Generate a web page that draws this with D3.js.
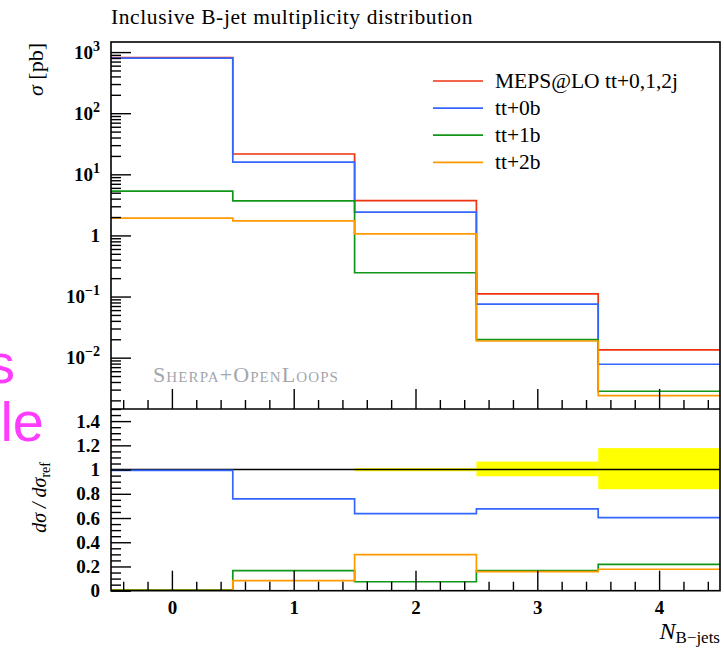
<!DOCTYPE html>
<html>
<head>
<meta charset="utf-8">
<script src="https://cdn.jsdelivr.net/npm/d3@7"></script>
<style>
  body { margin: 0; background: #fff; }
  svg { display: block; }
  .serif { font-family: "Liberation Serif", "DejaVu Serif", serif; }
</style>
</head>
<body>
<div class="main"></div>
<script>
// data
const bins = [0, 1, 2, 3, 4];
const seriesNames = ["MEPS@LO tt+0,1,2j", "tt+0b", "tt+1b", "tt+2b"];
const seriesColors = ["#ee3311", "#3366ff", "#109618", "#ff9900"];

// cross sections [pb]
const xsMeps = [810, 21.5, 3.7, 0.111, 0.0134];
const xs0b = [798, 15.8, 2.4, 0.0754, 0.0078];
const xs1b = [5.3, 3.68, 0.245, 0.0197, 0.00282];
const xs2b = [1.92, 1.73, 1.06, 0.01875, 0.00239];

// ratios to MEPS@LO
const r0b = [0.993, 0.758, 0.636, 0.675, 0.603];
const r1b = [0.007, 0.165, 0.074, 0.165, 0.218];
const r2b = [0.002, 0.083, 0.298, 0.157, 0.177];
const bandLo = [0.998, 0.997, 0.986, 0.945, 0.838];
const bandHi = [1.002, 1.003, 1.012, 1.066, 1.177];

const yTickVals = [1e-2, 1e-1, 1, 10, 100, 1000];
const yTickExp = ["−2", "−1", "", "1", "2", "3"];
const rTickVals = [0, 0.2, 0.4, 0.6, 0.8, 1, 1.2, 1.4];
const xTickVals = [0, 1, 2, 3, 4];

// layout
const W = 724, H = 650;
const pLeft = 111, pRight = 720, pTop = 42, pMid = 409, pBottom = 590.7;

const svg = d3.select(".main").append("svg")
  .attr("width", W).attr("height", H);
svg.append("rect").attr("width", W).attr("height", H).attr("fill", "#fff");

// slide text behind the chart
svg.append("text").attr("x", 15).attr("y", 383)
  .attr("text-anchor", "end")
  .style("font-family", "Liberation Sans, Arial, sans-serif")
  .style("font-size", "56px").attr("fill", "#ff3cff").text("s");
svg.append("text").attr("x", 44).attr("y", 441)
  .attr("text-anchor", "end")
  .style("font-family", "Liberation Sans, Arial, sans-serif")
  .style("font-size", "56px").attr("fill", "#ff3cff").text("ble");

//scales
const xScale = d3.scaleLinear().domain([-0.5, 4.5]).range([pLeft, pRight]);
const yScale = d3.scaleLog().domain([Math.pow(10, -2.84), Math.pow(10, 3.165)]).range([pMid, pTop]);
const rScale = d3.scaleLinear().domain([0, 1.5]).range([pBottom, pMid]);

svg.append("clipPath").attr("id", "clipMain")
  .append("rect").attr("x", pLeft).attr("y", pTop).attr("width", pRight - pLeft).attr("height", pMid - pTop);
svg.append("clipPath").attr("id", "clipRatio")
  .append("rect").attr("x", pLeft).attr("y", pMid).attr("width", pRight - pLeft).attr("height", pBottom - pMid);

function stepPoints(vals) {
  const pts = [];
  vals.forEach((v, i) => {
    pts.push([bins[i] - 0.5, v]);
    pts.push([bins[i] + 0.5, v]);
  });
  return pts;
}

// main histogram
const mainLine = d3.line().x(d => xScale(d[0])).y(d => yScale(d[1]));
const gMain = svg.append("g").attr("clip-path", "url(#clipMain)");
[xsMeps, xs0b, xs1b, xs2b].forEach((vals, k) => {
  gMain.append("path")
    .attr("d", mainLine(stepPoints(vals)))
    .attr("fill", "none")
    .attr("stroke", seriesColors[k])
    .attr("stroke-width", 1.7);
});

// ratio panel
const gRatio = svg.append("g").attr("clip-path", "url(#clipRatio)");
gRatio.selectAll("rect.band")
  .data(bins)
  .enter()
  .append("rect")
  .attr("class", "band")
  .attr("x", d => xScale(d - 0.5))
  .attr("width", d => xScale(d + 0.5) - xScale(d - 0.5))
  .attr("y", (d, i) => rScale(bandHi[i]))
  .attr("height", (d, i) => rScale(bandLo[i]) - rScale(bandHi[i]))
  .attr("fill", "#ffff00");
gRatio.append("line")
  .attr("x1", pLeft).attr("x2", pRight)
  .attr("y1", rScale(1)).attr("y2", rScale(1))
  .attr("stroke", "#000").attr("stroke-width", 1.4);
const ratioLine = d3.line().x(d => xScale(d[0])).y(d => rScale(d[1]));
[r0b, r1b, r2b].forEach((vals, k) => {
  gRatio.append("path")
    .attr("d", ratioLine(stepPoints(vals)))
    .attr("fill", "none")
    .attr("stroke", seriesColors[k + 1])
    .attr("stroke-width", 1.7);
});

// axes
const tickStyle = g => {
  g.select(".domain").remove();
  g.selectAll(".tick line").attr("stroke", "#000").attr("stroke-width", 1.4);
};

// log y axis, minor then major
const yMinor = [];
for (let e = -3; e <= 3; e++) {
  for (let m = 2; m <= 9; m++) {
    const v = m * Math.pow(10, e);
    if (v >= yScale.domain()[0] && v <= yScale.domain()[1]) yMinor.push(v);
  }
}
svg.append("g")
  .attr("transform", "translate(" + pLeft + ",0)")
  .call(d3.axisLeft(yScale).tickValues(yMinor).tickSize(-10).tickFormat(""))
  .call(tickStyle);
const yAx = svg.append("g")
  .attr("transform", "translate(" + pLeft + ",0)")
  .call(d3.axisLeft(yScale).tickValues(yTickVals).tickSize(-20).tickFormat(""))
  .call(tickStyle);
yAx.selectAll(".tick").each(function(d, i) {
  const t = d3.select(this).append("text")
    .attr("class", "serif")
    .attr("x", -11).attr("y", 6)
    .attr("text-anchor", "end")
    .attr("fill", "#000")
    .style("font-size", "19px")
    .style("font-weight", "bold");
  if (yTickExp[i] === "") {
    t.text("1");
  } else {
    t.append("tspan").text("10");
    t.append("tspan").attr("dy", -8).style("font-size", "14px").text(yTickExp[i]);
  }
});

// ratio y axis
const rMinor = d3.range(0, 1.5001, 0.05).filter(v => Math.abs(v * 5 - Math.round(v * 5)) > 1e-6);
svg.append("g")
  .attr("transform", "translate(" + pLeft + ",0)")
  .call(d3.axisLeft(rScale).tickValues(rMinor).tickSize(-10).tickFormat(""))
  .call(tickStyle);
svg.append("g")
  .attr("transform", "translate(" + pLeft + ",0)")
  .call(d3.axisLeft(rScale).tickValues(rTickVals).tickSize(-20).tickPadding(11).tickFormat(d3.format("~g")))
  .call(tickStyle)
  .call(g => g.selectAll("text")
    .attr("class", "serif").attr("fill", "#000")
    .style("font-size", "19px").style("font-weight", "bold"));

// x axes (main bottom and ratio bottom)
const xMinor = d3.range(-0.4, 4.5, 0.2).filter(v => Math.abs(v - Math.round(v)) > 1e-6);
[pMid, pBottom].forEach((yy, k) => {
  svg.append("g")
    .attr("transform", "translate(0," + yy + ")")
    .call(d3.axisBottom(xScale).tickValues(xMinor).tickSize(-9).tickFormat(""))
    .call(tickStyle);
  const ax = svg.append("g")
    .attr("transform", "translate(0," + yy + ")")
    .call(d3.axisBottom(xScale).tickValues(xTickVals).tickSize(-20).tickPadding(8)
      .tickFormat(k === 1 ? d3.format("d") : ""))
    .call(tickStyle);
  ax.selectAll("text")
    .attr("class", "serif").attr("fill", "#000")
    .attr("y", 10)
    .style("font-size", "19px").style("font-weight", "bold");
});

// frame
svg.append("rect")
  .attr("x", pLeft).attr("y", pTop)
  .attr("width", pRight - pLeft).attr("height", pBottom - pTop)
  .attr("fill", "none").attr("stroke", "#000").attr("stroke-width", 1.6);
svg.append("line")
  .attr("x1", pLeft).attr("x2", pRight).attr("y1", pMid).attr("y2", pMid)
  .attr("stroke", "#000").attr("stroke-width", 1.6);

// title
svg.append("text")
  .attr("class", "serif")
  .attr("x", pLeft).attr("y", 24)
  .style("font-size", "21.5px")
  .style("letter-spacing", "0.6px")
  .text("Inclusive B-jet multiplicity distribution");

// y labels
svg.append("text")
  .attr("class", "serif")
  .attr("transform", "translate(43," + (pTop + 1) + ") rotate(-90)")
  .attr("text-anchor", "end")
  .style("font-size", "22px")
  .html('<tspan font-style="italic">σ</tspan> [pb]');
const rl = svg.append("text")
  .attr("class", "serif")
  .attr("transform", "translate(46,462) rotate(-90)")
  .attr("text-anchor", "end")
  .style("font-size", "20px")
  .style("font-style", "italic");
rl.append("tspan").text("dσ / dσ");
rl.append("tspan").attr("dy", 4).style("font-size", "14px").style("font-style", "normal").text("ref");

// x label
const xl = svg.append("text")
  .attr("class", "serif")
  .attr("x", pRight).attr("y", 639)
  .attr("text-anchor", "end")
  .style("font-size", "24px");
xl.append("tspan").style("font-style", "italic").text("N");
xl.append("tspan").attr("dy", 4).style("font-size", "17px").text("B−jets");

// watermark
svg.append("text")
  .attr("class", "serif")
  .attr("x", 153).attr("y", 382)
  .attr("fill", "#a3a6ad")
  .style("font-size", "22px")
  .style("letter-spacing", "1.1px")
  .style("font-variant", "small-caps")
  .text("Sherpa+OpenLoops");

// legend
const legend = svg.append("g");
seriesNames.forEach((name, i) => {
  const yy = 81 + i * 27.1;
  legend.append("line")
    .attr("x1", 433).attr("x2", 483).attr("y1", yy).attr("y2", yy)
    .attr("stroke", seriesColors[i]).attr("stroke-width", 1.7);
  legend.append("text")
    .attr("class", "serif")
    .attr("x", 495).attr("y", yy + 7)
    .style("font-size", "21.5px")
    .text(name);
});
</script>
</body>
</html>
